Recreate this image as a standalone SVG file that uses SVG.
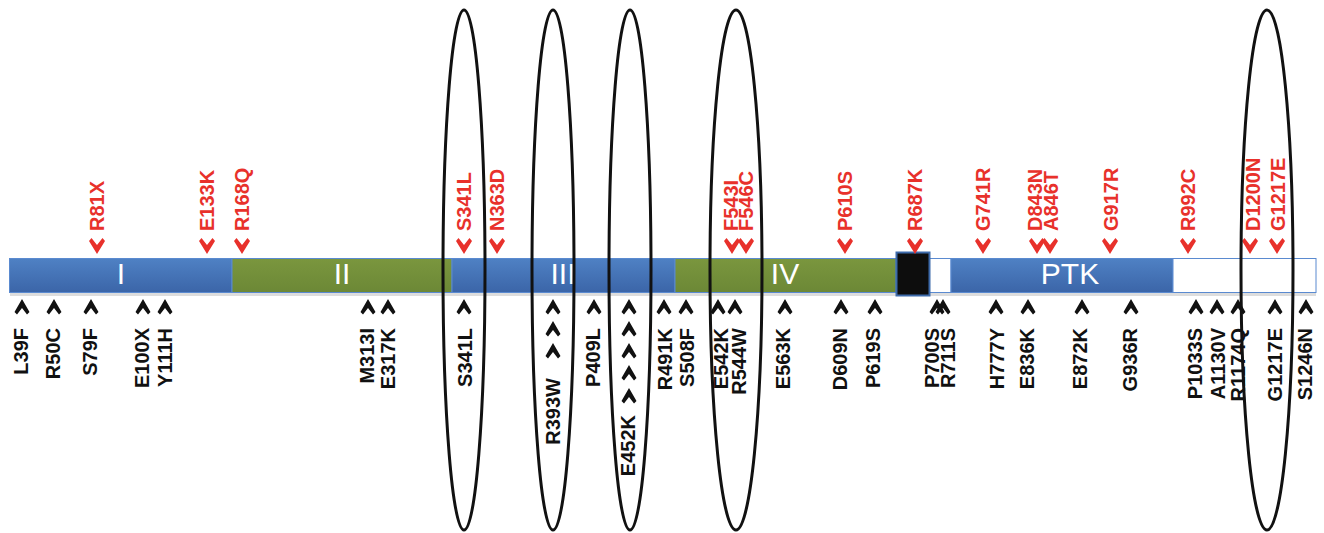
<svg xmlns="http://www.w3.org/2000/svg" xmlns:xlink="http://www.w3.org/1999/xlink" width="1324" height="533" viewBox="0 0 1324 533">
  <defs>
    <linearGradient id="blueFill" x1="0" y1="0" x2="0" y2="1">
      <stop offset="0" stop-color="#4f81c4"/>
      <stop offset="1" stop-color="#3b65a8"/>
    </linearGradient>
    <linearGradient id="greenFill" x1="0" y1="0" x2="0" y2="1">
      <stop offset="0" stop-color="#7a963e"/>
      <stop offset="1" stop-color="#6c8836"/>
    </linearGradient>
    <!-- upward black chevron (below the bar) -->
    <path id="up" d="M0,-8 L7.5,5 L5,7.5 L0,1 L-5,7.5 L-7.5,5 Z"/>
    <!-- downward red chevron (above the bar) -->
    <path id="down" d="M0,8 L8,-5 L5.5,-8 L0,-1 L-5.5,-8 L-8,-5 Z"/>
  </defs>
  <style>
    .lbl { font-family: "Liberation Sans", Arial, sans-serif; font-weight: bold; font-size: 20px; }
    .red { fill: #e8312b; }
    .blk { fill: #111111; }
    .dom { font-family: "Liberation Sans", Arial, sans-serif; font-size: 30px; fill: #ffffff; text-anchor: middle; }
    .seg { stroke: #5a8ad0; stroke-width: 1; }
    .ring { fill: none; stroke: #111111; stroke-width: 3; }
  </style>
  <rect width="1324" height="533" fill="#ffffff"/>

  <!-- protein bar -->
  <g id="bar">
    <rect x="10" y="292" width="1306" height="4" fill="#cfcfcf" opacity="0.7"/>
    <rect class="seg" x="9.5" y="258.5" width="222.5" height="34" fill="url(#blueFill)"/>
    <rect class="seg" x="232" y="258.5" width="220" height="34" fill="url(#greenFill)"/>
    <rect class="seg" x="452" y="258.5" width="223" height="34" fill="url(#blueFill)"/>
    <rect class="seg" x="675" y="258.5" width="221" height="34" fill="url(#greenFill)"/>
    <rect class="seg" x="929" y="258.5" width="22" height="34" fill="#ffffff"/>
    <rect class="seg" x="951" y="258.5" width="222" height="34" fill="url(#blueFill)"/>
    <rect class="seg" x="1173" y="258.5" width="143" height="34" fill="#ffffff"/>
    <rect x="896.5" y="252.5" width="33" height="43" fill="#0d0d0d" stroke="#3d6aaa" stroke-width="2"/>
    <text class="dom" x="121" y="284">I</text>
    <text class="dom" x="342" y="284">II</text>
    <text class="dom" x="563" y="284">III</text>
    <text class="dom" x="785" y="284">IV</text>
    <text class="dom" x="1070" y="284">PTK</text>
  </g>

  <!-- mutations above the bar -->
  <g id="upper" class="red">
    <use xlink:href="#down" x="97" y="246"/>
    <use xlink:href="#down" x="207" y="246"/>
    <use xlink:href="#down" x="242" y="246"/>
    <use xlink:href="#down" x="464" y="246"/>
    <use xlink:href="#down" x="497" y="246"/>
    <use xlink:href="#down" x="732" y="246"/>
    <use xlink:href="#down" x="746" y="246"/>
    <use xlink:href="#down" x="845" y="246"/>
    <use xlink:href="#down" x="915" y="246"/>
    <use xlink:href="#down" x="983" y="246"/>
    <use xlink:href="#down" x="1037" y="246"/>
    <use xlink:href="#down" x="1050" y="246"/>
    <use xlink:href="#down" x="1110" y="246"/>
    <use xlink:href="#down" x="1188" y="246"/>
    <use xlink:href="#down" x="1250" y="246"/>
    <use xlink:href="#down" x="1277" y="246"/>
    <g class="lbl">
      <text transform="translate(104,231) rotate(-90)">R81X</text>
      <text transform="translate(214,231) rotate(-90)">E133K</text>
      <text transform="translate(249,231) rotate(-90)">R168Q</text>
      <text transform="translate(471,231) rotate(-90)">S341L</text>
      <text transform="translate(504,231) rotate(-90)">N363D</text>
      <text transform="translate(738,231) rotate(-90)">F543I</text>
      <text transform="translate(753,231) rotate(-90)">F546C</text>
      <text transform="translate(852,231) rotate(-90)">P610S</text>
      <text transform="translate(922,231) rotate(-90)">R687K</text>
      <text transform="translate(990,231) rotate(-90)">G741R</text>
      <text transform="translate(1042,231) rotate(-90)">D843N</text>
      <text transform="translate(1058,231) rotate(-90)">A846T</text>
      <text transform="translate(1118,231) rotate(-90)">G917R</text>
      <text transform="translate(1195,231) rotate(-90)">R992C</text>
      <text transform="translate(1260,231) rotate(-90)">D1200N</text>
      <text transform="translate(1285,231) rotate(-90)">G1217E</text>
    </g>
  </g>

  <!-- mutations below the bar -->
  <g id="lower" class="blk">
    <use xlink:href="#up" x="22" y="307"/>
    <use xlink:href="#up" x="54" y="307"/>
    <use xlink:href="#up" x="91" y="307"/>
    <use xlink:href="#up" x="143" y="307"/>
    <use xlink:href="#up" x="165" y="307"/>
    <use xlink:href="#up" x="368" y="307"/>
    <use xlink:href="#up" x="388" y="307"/>
    <use xlink:href="#up" x="464" y="307"/>
    <use xlink:href="#up" x="553" y="307"/>
    <use xlink:href="#up" x="553" y="329"/>
    <use xlink:href="#up" x="553" y="351"/>
    <use xlink:href="#up" x="594" y="307"/>
    <use xlink:href="#up" x="629" y="307"/>
    <use xlink:href="#up" x="629" y="329"/>
    <use xlink:href="#up" x="629" y="351"/>
    <use xlink:href="#up" x="629" y="373"/>
    <use xlink:href="#up" x="629" y="396"/>
    <use xlink:href="#up" x="664" y="307"/>
    <use xlink:href="#up" x="686" y="307"/>
    <use xlink:href="#up" x="718" y="307"/>
    <use xlink:href="#up" x="735" y="307"/>
    <use xlink:href="#up" x="785" y="307"/>
    <use xlink:href="#up" x="841" y="307"/>
    <use xlink:href="#up" x="875" y="307"/>
    <use xlink:href="#up" x="937" y="307"/>
    <use xlink:href="#up" x="943" y="307"/>
    <use xlink:href="#up" x="996" y="307"/>
    <use xlink:href="#up" x="1028" y="307"/>
    <use xlink:href="#up" x="1082" y="307"/>
    <use xlink:href="#up" x="1131" y="307"/>
    <use xlink:href="#up" x="1196" y="307"/>
    <use xlink:href="#up" x="1217" y="307"/>
    <use xlink:href="#up" x="1238" y="307"/>
    <use xlink:href="#up" x="1275" y="307"/>
    <use xlink:href="#up" x="1306" y="307"/>
    <g class="lbl" text-anchor="end">
      <text transform="translate(28,328) rotate(-90)">L39F</text>
      <text transform="translate(60,328) rotate(-90)">R50C</text>
      <text transform="translate(97,328) rotate(-90)">S79F</text>
      <text transform="translate(149,328) rotate(-90)">E100X</text>
      <text transform="translate(172,328) rotate(-90)">Y111H</text>
      <text transform="translate(374,328) rotate(-90)">M313I</text>
      <text transform="translate(395,328) rotate(-90)">E317K</text>
      <text transform="translate(472,328) rotate(-90)">S341L</text>
      <text transform="translate(560,378) rotate(-90)">R393W</text>
      <text transform="translate(600,328) rotate(-90)">P409L</text>
      <text transform="translate(635,415) rotate(-90)">E452K</text>
      <text transform="translate(672,328) rotate(-90)">R491K</text>
      <text transform="translate(694,328) rotate(-90)">S508F</text>
      <text transform="translate(728,328) rotate(-90)">E542K</text>
      <text transform="translate(746,328) rotate(-90)">R544W</text>
      <text transform="translate(790,328) rotate(-90)">E563K</text>
      <text transform="translate(847,328) rotate(-90)">D609N</text>
      <text transform="translate(880,328) rotate(-90)">P619S</text>
      <text transform="translate(939,328) rotate(-90)">P700S</text>
      <text transform="translate(955,328) rotate(-90)">R711S</text>
      <text transform="translate(1004,328) rotate(-90)">H777Y</text>
      <text transform="translate(1034,328) rotate(-90)">E836K</text>
      <text transform="translate(1087,328) rotate(-90)">E872K</text>
      <text transform="translate(1137,328) rotate(-90)">G936R</text>
      <text transform="translate(1202,328) rotate(-90)">P1033S</text>
      <text transform="translate(1225,328) rotate(-90)">A1130V</text>
      <text transform="translate(1245,328) rotate(-90)">R1174Q</text>
      <text transform="translate(1282,328) rotate(-90)">G1217E</text>
      <text transform="translate(1312,328) rotate(-90)">S1246N</text>
    </g>
  </g>

  <!-- rings grouping recurrent sites -->
  <g id="rings">
    <ellipse class="ring" cx="464" cy="270" rx="21" ry="260"/>
    <ellipse class="ring" cx="553" cy="270" rx="21" ry="260"/>
    <ellipse class="ring" cx="630" cy="270" rx="21" ry="260"/>
    <ellipse class="ring" cx="736" cy="270" rx="26" ry="260"/>
    <ellipse class="ring" cx="1267" cy="270" rx="26" ry="260"/>
  </g>
</svg>
